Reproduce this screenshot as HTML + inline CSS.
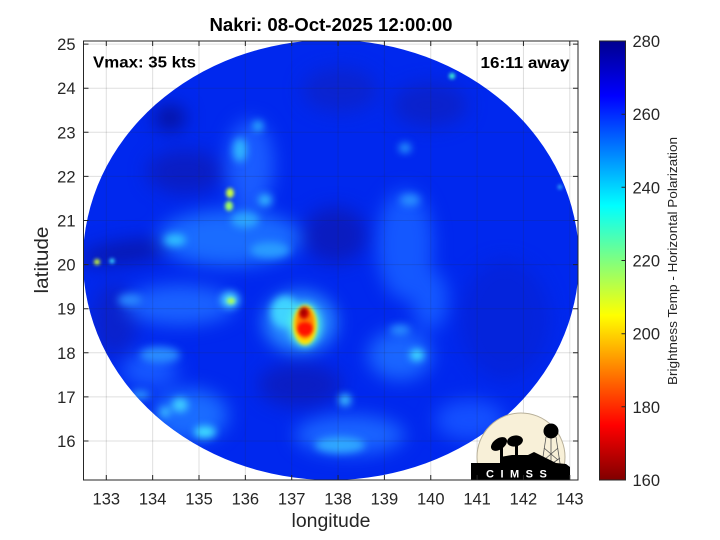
<!DOCTYPE html>
<html>
<head>
<meta charset="utf-8">
<style>
html,body{margin:0;padding:0;background:#fff;}
svg{display:block;}
text{font-family:"Liberation Sans",Arial,sans-serif;}
</style>
</head>
<body>
<svg width="720" height="540" viewBox="0 0 720 540" xmlns="http://www.w3.org/2000/svg">
<defs>
  <clipPath id="box"><rect x="83.5" y="41" width="494.5" height="439"/></clipPath>
  <clipPath id="ell"><ellipse cx="331" cy="260" rx="248" ry="220"/></clipPath>
  <filter id="b10" x="-50%" y="-50%" width="200%" height="200%" color-interpolation-filters="sRGB"><feGaussianBlur stdDeviation="9"/></filter>
  <filter id="b5" x="-50%" y="-50%" width="200%" height="200%" color-interpolation-filters="sRGB"><feGaussianBlur stdDeviation="4"/></filter>
  <filter id="b2" x="-50%" y="-50%" width="200%" height="200%" color-interpolation-filters="sRGB"><feGaussianBlur stdDeviation="1.8"/></filter>
  <linearGradient id="jet" x1="0" y1="0" x2="0" y2="1">
    <stop offset="0" stop-color="#00008f"/>
    <stop offset="0.125" stop-color="#0000ff"/>
    <stop offset="0.375" stop-color="#00ffff"/>
    <stop offset="0.625" stop-color="#ffff00"/>
    <stop offset="0.875" stop-color="#ff0000"/>
    <stop offset="1" stop-color="#800000"/>
  </linearGradient>
</defs>

<rect x="0" y="0" width="720" height="540" fill="#fff"/>

<!-- grid lines (white region) -->
<g stroke="#262626" stroke-opacity="0.15" stroke-width="1">
  <line x1="106.3" y1="41" x2="106.3" y2="480"/>
  <line x1="152.65" y1="41" x2="152.65" y2="480"/>
  <line x1="199" y1="41" x2="199" y2="480"/>
  <line x1="245.35" y1="41" x2="245.35" y2="480"/>
  <line x1="291.7" y1="41" x2="291.7" y2="480"/>
  <line x1="338.05" y1="41" x2="338.05" y2="480"/>
  <line x1="384.4" y1="41" x2="384.4" y2="480"/>
  <line x1="430.75" y1="41" x2="430.75" y2="480"/>
  <line x1="477.1" y1="41" x2="477.1" y2="480"/>
  <line x1="523.45" y1="41" x2="523.45" y2="480"/>
  <line x1="569.8" y1="41" x2="569.8" y2="480"/>
  <line x1="83.5" y1="441" x2="578" y2="441"/>
  <line x1="83.5" y1="396.9" x2="578" y2="396.9"/>
  <line x1="83.5" y1="352.8" x2="578" y2="352.8"/>
  <line x1="83.5" y1="308.7" x2="578" y2="308.7"/>
  <line x1="83.5" y1="264.6" x2="578" y2="264.6"/>
  <line x1="83.5" y1="220.5" x2="578" y2="220.5"/>
  <line x1="83.5" y1="176.4" x2="578" y2="176.4"/>
  <line x1="83.5" y1="132.3" x2="578" y2="132.3"/>
  <line x1="83.5" y1="88.2" x2="578" y2="88.2"/>
  <line x1="83.5" y1="44.1" x2="578" y2="44.1"/>
</g>

<!-- swath image -->
<g clip-path="url(#box)">
<g clip-path="url(#ell)">
  <rect x="70" y="30" width="520" height="460" fill="#0028ee"/>
  <g filter="url(#b10)">
    <ellipse cx="170" cy="118" rx="16" ry="13" fill="#0612a0"/>
    <ellipse cx="128" cy="252" rx="50" ry="11" fill="#0818b0" transform="rotate(-8 128 252)"/>
    <ellipse cx="185" cy="172" rx="38" ry="22" fill="#0a1ec4"/>
    <ellipse cx="115" cy="320" rx="22" ry="36" fill="#0a22cc"/>
    <ellipse cx="335" cy="235" rx="32" ry="28" fill="#0a1cc0"/>
    <ellipse cx="300" cy="385" rx="42" ry="22" fill="#0a1ec4"/>
    <ellipse cx="505" cy="320" rx="45" ry="60" fill="#0424dc"/>
    <ellipse cx="430" cy="105" rx="38" ry="22" fill="#0a22cc"/>
    <ellipse cx="340" cy="90" rx="38" ry="22" fill="#0a24d0"/>
    <ellipse cx="230" cy="238" rx="72" ry="28" fill="#1a6cff"/>
    <ellipse cx="180" cy="305" rx="55" ry="20" fill="#1a62ff"/>
    <ellipse cx="405" cy="245" rx="28" ry="55" fill="#1458ff"/>
    <ellipse cx="400" cy="355" rx="32" ry="25" fill="#1a66ff"/>
    <ellipse cx="190" cy="415" rx="38" ry="26" fill="#1a6cff"/>
    <ellipse cx="350" cy="435" rx="55" ry="20" fill="#1a64ff"/>
    <ellipse cx="250" cy="165" rx="24" ry="45" fill="#1a5cff"/>
    <ellipse cx="300" cy="322" rx="36" ry="30" fill="#2a90ff"/>
    <ellipse cx="470" cy="420" rx="35" ry="20" fill="#1450ff"/>
    <ellipse cx="150" cy="370" rx="28" ry="18" fill="#1658ff"/>
    <ellipse cx="430" cy="300" rx="18" ry="30" fill="#1458ff"/>
  </g>
  <g filter="url(#b5)">
    <ellipse cx="240" cy="150" rx="7" ry="12" fill="#30b4ff"/>
    <ellipse cx="258" cy="126" rx="5" ry="5" fill="#30c0ff"/>
    <ellipse cx="265" cy="200" rx="7" ry="6" fill="#34b8ff"/>
    <ellipse cx="175" cy="240" rx="11" ry="6" fill="#30c0ff"/>
    <ellipse cx="245" cy="220" rx="14" ry="8" fill="#2ca4ff"/>
    <ellipse cx="270" cy="250" rx="20" ry="8" fill="#2a9cff"/>
    <ellipse cx="230" cy="300" rx="9" ry="8" fill="#50e0ff"/>
    <ellipse cx="285" cy="312" rx="14" ry="16" fill="#40d4ff"/>
    <ellipse cx="305" cy="325" rx="16" ry="22" fill="#50f0e0"/>
    <ellipse cx="180" cy="405" rx="8" ry="7" fill="#40d0ff"/>
    <ellipse cx="205" cy="432" rx="11" ry="6" fill="#40e0ff"/>
    <ellipse cx="165" cy="412" rx="5" ry="5" fill="#40c8ff"/>
    <ellipse cx="345" cy="400" rx="6" ry="6" fill="#40c8ff"/>
    <ellipse cx="340" cy="445" rx="25" ry="8" fill="#30a8ff"/>
    <ellipse cx="417" cy="355" rx="7" ry="6" fill="#40e0ff"/>
    <ellipse cx="410" cy="200" rx="10" ry="6" fill="#2a90ff"/>
    <ellipse cx="405" cy="148" rx="6" ry="5" fill="#2aa0ff"/>
    <ellipse cx="160" cy="355" rx="20" ry="8" fill="#2a8cff"/>
    <ellipse cx="130" cy="300" rx="12" ry="6" fill="#2a88ff"/>
    <ellipse cx="400" cy="330" rx="10" ry="5" fill="#2a90ff"/>
    <ellipse cx="140" cy="395" rx="10" ry="5" fill="#2a90ff"/>
  </g>
  <g filter="url(#b2)">
    <ellipse cx="230" cy="193" rx="4" ry="5" fill="#c8ff40"/>
    <ellipse cx="229" cy="206" rx="4" ry="5" fill="#a0ff60"/>
    <ellipse cx="97" cy="262" rx="3" ry="3" fill="#d0ff30"/>
    <ellipse cx="112" cy="261" rx="2.5" ry="2.5" fill="#40e8ff"/>
    <ellipse cx="452" cy="76" rx="3" ry="3" fill="#40ffd0"/>
    <ellipse cx="560" cy="187" rx="2" ry="2" fill="#40d0ff"/>
    <ellipse cx="231" cy="301" rx="4" ry="3" fill="#b0ff50"/>
    <ellipse cx="305" cy="325" rx="12" ry="20" fill="#ffe000"/>
    <ellipse cx="305" cy="323" rx="9" ry="16" fill="#ff8000"/>
    <ellipse cx="304" cy="313" rx="5" ry="6" fill="#d00000"/>
    <ellipse cx="305" cy="329" rx="8" ry="7" fill="#ff1000"/>
    <ellipse cx="303" cy="312" rx="3" ry="3.5" fill="#a00000"/>
  </g>
</g>
</g>

<!-- grid lines over image -->
<g clip-path="url(#ell)" stroke="#262626" stroke-opacity="0.15" stroke-width="1">
  <line x1="106.3" y1="41" x2="106.3" y2="480"/>
  <line x1="152.65" y1="41" x2="152.65" y2="480"/>
  <line x1="199" y1="41" x2="199" y2="480"/>
  <line x1="245.35" y1="41" x2="245.35" y2="480"/>
  <line x1="291.7" y1="41" x2="291.7" y2="480"/>
  <line x1="338.05" y1="41" x2="338.05" y2="480"/>
  <line x1="384.4" y1="41" x2="384.4" y2="480"/>
  <line x1="430.75" y1="41" x2="430.75" y2="480"/>
  <line x1="477.1" y1="41" x2="477.1" y2="480"/>
  <line x1="523.45" y1="41" x2="523.45" y2="480"/>
  <line x1="569.8" y1="41" x2="569.8" y2="480"/>
  <line x1="83.5" y1="441" x2="578" y2="441"/>
  <line x1="83.5" y1="396.9" x2="578" y2="396.9"/>
  <line x1="83.5" y1="352.8" x2="578" y2="352.8"/>
  <line x1="83.5" y1="308.7" x2="578" y2="308.7"/>
  <line x1="83.5" y1="264.6" x2="578" y2="264.6"/>
  <line x1="83.5" y1="220.5" x2="578" y2="220.5"/>
  <line x1="83.5" y1="176.4" x2="578" y2="176.4"/>
  <line x1="83.5" y1="132.3" x2="578" y2="132.3"/>
  <line x1="83.5" y1="88.2" x2="578" y2="88.2"/>
  <line x1="83.5" y1="44.1" x2="578" y2="44.1"/>
</g>

<!-- CIMSS logo -->
<g clip-path="url(#box)">
  <circle cx="521" cy="457" r="44" fill="#f8f0d8" stroke="#b8b09a" stroke-width="1"/>
  <g stroke="#555" stroke-width="0.8" fill="none">
    <line x1="546" y1="437" x2="541" y2="470"/>
    <line x1="556" y1="437" x2="561" y2="470"/>
    <line x1="551" y1="437" x2="551" y2="470"/>
    <line x1="544" y1="448" x2="558" y2="460"/>
    <line x1="558" y1="448" x2="544" y2="460"/>
    <line x1="543" y1="458" x2="560" y2="470"/>
    <line x1="560" y1="458" x2="543" y2="470"/>
  </g>
  <circle cx="551" cy="431" r="7.5" fill="#000"/>
  <ellipse cx="499" cy="444" rx="9" ry="5.5" fill="#000" transform="rotate(-35 499 444)"/>
  <ellipse cx="515" cy="441" rx="8" ry="5.5" fill="#000" transform="rotate(-10 515 441)"/>
  <rect x="500" y="446" width="3" height="12" fill="#000"/>
  <rect x="515" y="444" width="3" height="12" fill="#000"/>
  <polygon fill="#000" points="471,480 471,463 500,463 500,457 512,455 528,455 534,452 548,459 556,463 566,464 570,467 570,480"/>
  <text x="486" y="477.5" font-size="11" font-weight="bold" fill="#fff" letter-spacing="6.5">CIMSS</text>
</g>

<!-- axes box -->
<rect x="83.5" y="41" width="494.5" height="439" fill="none" stroke="#262626" stroke-width="1"/>
<g stroke="#262626" stroke-width="1">
  <path d="M106.3 480v-5M152.65 480v-5M199 480v-5M245.35 480v-5M291.7 480v-5M338.05 480v-5M384.4 480v-5M430.75 480v-5M477.1 480v-5M523.45 480v-5M569.8 480v-5"/>
  <path d="M106.3 41v5M152.65 41v5M199 41v5M245.35 41v5M291.7 41v5M338.05 41v5M384.4 41v5M430.75 41v5M477.1 41v5M523.45 41v5M569.8 41v5"/>
  <path d="M83.5 441h5M83.5 396.9h5M83.5 352.8h5M83.5 308.7h5M83.5 264.6h5M83.5 220.5h5M83.5 176.4h5M83.5 132.3h5M83.5 88.2h5M83.5 44.1h5"/>
  <path d="M578 441h-5M578 396.9h-5M578 352.8h-5M578 308.7h-5M578 264.6h-5M578 220.5h-5M578 176.4h-5M578 132.3h-5M578 88.2h-5M578 44.1h-5"/>
</g>

<!-- x tick labels -->
<g font-size="16.5" fill="#262626" text-anchor="middle">
  <text x="106.3" y="504.5">133</text>
  <text x="152.65" y="504.5">134</text>
  <text x="199" y="504.5">135</text>
  <text x="245.35" y="504.5">136</text>
  <text x="291.7" y="504.5">137</text>
  <text x="338.05" y="504.5">138</text>
  <text x="384.4" y="504.5">139</text>
  <text x="430.75" y="504.5">140</text>
  <text x="477.1" y="504.5">141</text>
  <text x="523.45" y="504.5">142</text>
  <text x="569.8" y="504.5">143</text>
</g>
<!-- y tick labels -->
<g font-size="16.5" fill="#262626" text-anchor="end">
  <text x="75.5" y="447">16</text>
  <text x="75.5" y="402.9">17</text>
  <text x="75.5" y="358.8">18</text>
  <text x="75.5" y="314.7">19</text>
  <text x="75.5" y="270.6">20</text>
  <text x="75.5" y="226.5">21</text>
  <text x="75.5" y="182.4">22</text>
  <text x="75.5" y="138.3">23</text>
  <text x="75.5" y="94.2">24</text>
  <text x="75.5" y="50.1">25</text>
</g>

<!-- axis labels -->
<text x="331" y="527" font-size="19" fill="#262626" text-anchor="middle" textLength="79" lengthAdjust="spacingAndGlyphs">longitude</text>
<text transform="translate(48 260) rotate(-90)" font-size="19" fill="#262626" text-anchor="middle" textLength="67" lengthAdjust="spacingAndGlyphs">latitude</text>

<!-- title -->
<text x="331" y="31" font-size="18.5" font-weight="bold" fill="#000" text-anchor="middle" textLength="243" lengthAdjust="spacingAndGlyphs">Nakri: 08-Oct-2025 12:00:00</text>

<!-- annotations -->
<text x="93" y="67.5" font-size="16" font-weight="bold" fill="#000" textLength="103" lengthAdjust="spacingAndGlyphs">Vmax: 35 kts</text>
<text x="569.5" y="68" font-size="16" font-weight="bold" fill="#000" text-anchor="end" textLength="89" lengthAdjust="spacingAndGlyphs">16:11 away</text>

<!-- colorbar -->
<rect x="599.5" y="41" width="26" height="439" fill="url(#jet)" stroke="#262626" stroke-width="1"/>
<g stroke="#262626" stroke-width="1">
  <path d="M625.5 114.2h-4M625.5 187.3h-4M625.5 260.5h-4M625.5 333.7h-4M625.5 406.8h-4"/>
</g>
<g font-size="16.5" fill="#262626">
  <text x="632.5" y="47">280</text>
  <text x="632.5" y="120.2">260</text>
  <text x="632.5" y="193.3">240</text>
  <text x="632.5" y="266.5">220</text>
  <text x="632.5" y="339.7">200</text>
  <text x="632.5" y="412.8">180</text>
  <text x="632.5" y="486">160</text>
</g>
<text transform="translate(677 261) rotate(-90)" font-size="13" fill="#262626" text-anchor="middle" textLength="248" lengthAdjust="spacingAndGlyphs">Brightness Temp - Horizontal Polarization</text>
</svg>
</body>
</html>
